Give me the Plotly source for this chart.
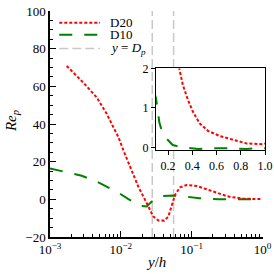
import plotly.graph_objects as go

# ---------------- data ----------------
d20_x = [0.00172, 0.00295, 0.00457, 0.00632, 0.00784, 0.00923, 0.01084, 0.01276,
         0.01503, 0.01766, 0.02198, 0.02584, 0.02877, 0.0339, 0.0411, 0.0469,
         0.0524, 0.0583, 0.0686, 0.0853, 0.118, 0.146, 0.203, 0.25, 0.294, 0.321,
         0.363, 0.404, 0.46, 0.529, 0.626, 0.737, 0.848, 0.986, 1.0]
d20_y = [70.8, 62.0, 54.1, 45.4, 38.3, 33.1, 26.1, 19.6,
         12.9, 6.7, -0.3, -5.5, -9.1, -11.2, -11.3, -9.1,
         -3.8, 2.4, 6.4, 7.6, 7.1, 5.9, 4.0, 2.8, 1.97, 1.59,
         1.21, 0.91, 0.61, 0.42, 0.29, 0.19, 0.10, 0.08, 0.10]

d10_x = [0.001, 0.0019, 0.0028, 0.0043, 0.0063, 0.0092, 0.0128, 0.0187, 0.0232,
         0.0258, 0.0273, 0.0378, 0.0552, 0.085, 0.1, 0.114, 0.128, 0.145, 0.161,
         0.238, 0.32, 0.45, 0.53, 0.65, 0.75, 0.85, 0.93, 1.0]
d10_y = [16.4, 14.1, 12.5, 9.9, 6.7, 3.6, 0.1, -3.4, -3.8,
         -2.0, -1.2, 1.8, 2.0, 1.4, 1.25, 0.95, 0.63, 0.45, 0.31,
         0.06, 0.0, -0.04, -0.02, -0.02, -0.03, -0.04, -0.02, -0.02]

dp_values = [1 / 36, 1 / 18]
y_limits = [-20, 100]

main_tickvals = [1e-3, 1e-2, 1e-1, 1e0]
main_ticktext = ["10<sup>−3</sup>", "10<sup>−2</sup>", "10<sup>−1</sup>", "10<sup>0</sup>"]
minor_tickvals = [m * 10 ** e for e in (-3, -2, -1) for m in range(2, 10)]
inset_xticks = [0.2, 0.4, 0.6, 0.8, 1.0]
inset_xticktext = ["0.2", "0.4", "0.6", "0.8", "1.0"]
inset_yticks = [0, 1, 2]

legend_names = ["D20", "D10", "<i>y</i> = <i>D</i><sub><i>p</i></sub>"]
x_title = "<i>y</i>/<i>h</i>"
y_title = "<i>Re</i><sub><i>p</i></sub>"

# ---------------- styles ----------------
FONT = "Liberation Serif"
red_line = dict(color="#ff0000", width=2, dash="3px,2px")
green_line = dict(color="#008000", width=2, dash="13px,12px")
gray_line = dict(color="#c8c8c8", width=1.5, dash="9px,4px")

fig = go.Figure()

# vertical y = Dp lines (main axes)
for dp in dp_values:
    fig.add_trace(go.Scatter(x=[dp, dp], y=y_limits, mode="lines", line=gray_line,
                             showlegend=False, hoverinfo="skip", xaxis="x", yaxis="y"))

# main curves
fig.add_trace(go.Scatter(x=d10_x, y=d10_y, mode="lines", line=green_line,
                         showlegend=False, xaxis="x", yaxis="y"))
fig.add_trace(go.Scatter(x=d20_x, y=d20_y, mode="lines", line=red_line,
                         showlegend=False, xaxis="x", yaxis="y"))

# inset curves
fig.add_trace(go.Scatter(x=d10_x, y=d10_y, mode="lines", line=green_line,
                         showlegend=False, xaxis="x2", yaxis="y2"))
fig.add_trace(go.Scatter(x=d20_x, y=d20_y, mode="lines", line=red_line,
                         showlegend=False, xaxis="x2", yaxis="y2"))

tickfont = dict(family=FONT, size=13, color="black")

fig.update_layout(
    width=274, height=274,
    margin=dict(l=50, r=8, t=11, b=37, autoexpand=False),
    paper_bgcolor="white", plot_bgcolor="white",
    showlegend=False,
    font=dict(family=FONT, color="black"),
    xaxis=dict(
        type="log", range=[-3, 0], domain=[0, 0.9838], anchor="y", automargin=False,
        showline=True, linecolor="black", linewidth=1.5,
        ticks="inside", ticklen=6, tickwidth=1.2, tickcolor="black",
        tickmode="array", tickvals=main_tickvals, ticktext=main_ticktext,
        minor=dict(ticks="inside", ticklen=3, tickwidth=0.8, tickcolor="black",
                   tickmode="array", tickvals=minor_tickvals, showgrid=False),
        showgrid=False, zeroline=False, tickfont=tickfont,
    ),
    yaxis=dict(
        range=y_limits, domain=[0, 1], anchor="x", automargin=False,
        showline=True, linecolor="black", linewidth=1.5,
        ticks="inside", ticklen=6, tickwidth=1.2, tickcolor="black",
        tickmode="linear", tick0=0, dtick=20,
        minor=dict(ticks="inside", ticklen=3, tickwidth=0.8, tickcolor="black",
                   dtick=5, showgrid=False),
        showgrid=False, zeroline=False, tickfont=tickfont,
    ),
    xaxis2=dict(
        range=[0.1, 1.0], domain=[0.4907, 0.9954], anchor="y2", automargin=False,
        showline=True, mirror=True, linecolor="black", linewidth=1.3,
        ticks="outside", ticklen=4, tickwidth=1.2, tickcolor="black",
        tickmode="array", tickvals=inset_xticks, ticktext=inset_xticktext,
        showgrid=False, zeroline=False, tickfont=dict(family=FONT, size=12, color="black"),
    ),
    yaxis2=dict(
        range=[-0.065, 2], domain=[0.385, 0.7456], anchor="x2", automargin=False,
        showline=True, mirror=True, linecolor="black", linewidth=1.3,
        ticks="outside", ticklen=4, tickwidth=1.2, tickcolor="black",
        tickmode="array", tickvals=inset_yticks,
        showgrid=False, zeroline=False, tickfont=dict(family=FONT, size=12, color="black"),
    ),
)

# axis titles
fig.add_annotation(x=0.491, y=-0.1106, xref="paper", yref="paper", text=x_title, showarrow=False,
                   xanchor="center", yanchor="middle", font=dict(family=FONT, size=15, color="black"))
fig.add_annotation(x=-0.176, y=0.513, xref="paper", yref="paper", text=y_title, showarrow=False,
                   textangle=-90, xanchor="center", yanchor="middle",
                   font=dict(family=FONT, size=15, color="black"))

# custom legend (line samples + labels)
legend_styles = [red_line, green_line, gray_line]
row_y = [0.948, 0.8947, 0.8336]
for name, style, yy in zip(legend_names, legend_styles, row_y):
    fig.add_shape(type="line", xref="paper", yref="paper", x0=0.043, x1=0.2315, y0=yy, y1=yy,
                  line=style)
    fig.add_annotation(x=0.27, y=yy, xref="paper", yref="paper", text=name, showarrow=False,
                       xanchor="left", yanchor="middle", font=dict(family=FONT, size=13, color="black"))

fig.write_html("out.html", config={"displayModeBar": False},
               post_script="document.body.style.margin='0px';")
